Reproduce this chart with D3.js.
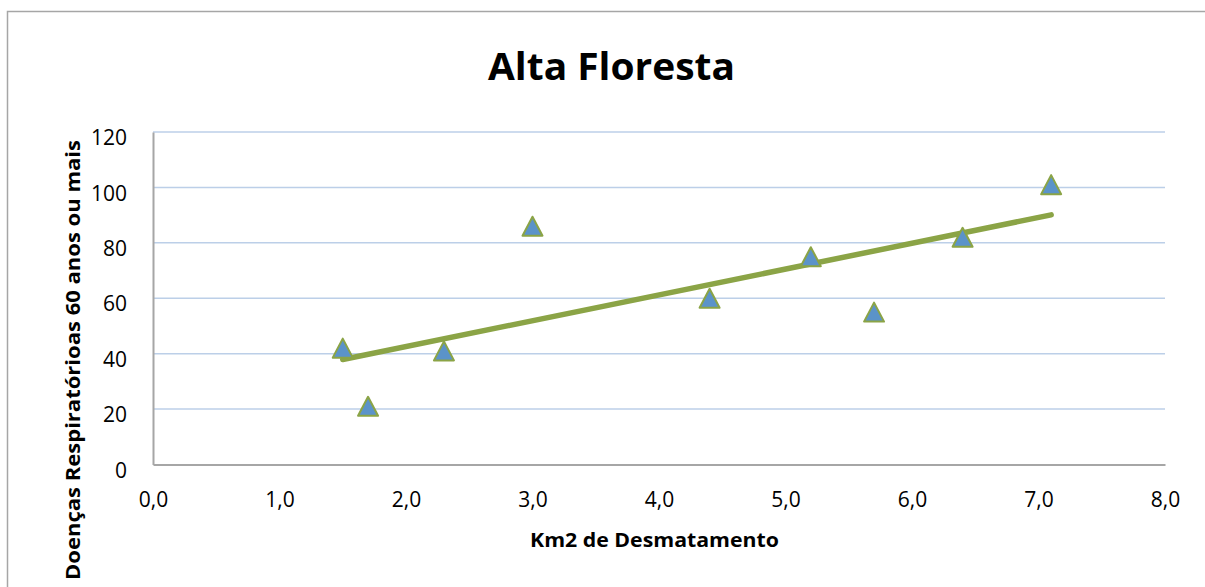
<!DOCTYPE html>
<html>
<head>
<meta charset="utf-8">
<script src="https://cdn.jsdelivr.net/npm/d3@7"></script>
<style>
  html, body { margin: 0; padding: 0; background: #fff; }
  svg { display: block; }
  text { font-family: "Open Sans", "Liberation Sans", sans-serif; fill: #000; }
</style>
</head>
<body>
<svg id="chart" width="1205" height="587"></svg>
<script>
// ---- data ----
const chartTitle = "Alta Floresta";
const xTitle = "Km2 de Desmatamento";
const yTitle = "Doenças Respiratórioas 60 anos ou mais";
const desmatamento = [1.5, 1.7, 2.3, 3.0, 4.4, 5.2, 5.7, 6.4, 7.1];
const doencas = [42, 21, 41, 86, 60, 75, 55, 82, 101];
const xTickValues = [0, 1, 2, 3, 4, 5, 6, 7, 8];
const yTickValues = [0, 20, 40, 60, 80, 100, 120];

// ---- layout ----
const W = 1205, H = 587;
const plot = { left: 153, right: 1165, top: 132, bottom: 464.5 };
const svg = d3.select("#chart");

// outer chart border
svg.append("rect")
  .attr("x", 7.5).attr("y", 11.5)
  .attr("width", W + 20).attr("height", H + 20)
  .attr("fill", "#fff").attr("stroke", "#a6a6a6").attr("stroke-width", 1.5);

const x = d3.scaleLinear().domain([0, 8]).range([plot.left, plot.right]);
const y = d3.scaleLinear().domain([0, 120]).range([plot.bottom, plot.top]);

const ptBR = d3.formatLocale({ decimal: ",", thousands: ".", grouping: [3], currency: ["R$", ""] });
const fmtX = ptBR.format(".1f");

// gridlines
svg.append("g").selectAll("line").data(yTickValues.filter(v => v > 0)).join("line")
  .attr("x1", plot.left).attr("x2", plot.right)
  .attr("y1", d => y(d)).attr("y2", d => y(d))
  .attr("stroke", "#bccfe8").attr("stroke-width", 1.5);

// axes
const yAxis = d3.axisLeft(y).tickValues(yTickValues).tickSize(0).tickPadding(26).tickFormat(d3.format("d"));
const gy = svg.append("g").attr("transform", `translate(${plot.left},0)`).call(yAxis);
gy.select(".domain").attr("stroke", "#a6a6a6").attr("stroke-width", 2);
gy.selectAll("text").attr("font-size", 21).attr("dy", "0.6em").style("font-family", "'Open Sans', sans-serif");

const xAxis = d3.axisBottom(x).tickValues(xTickValues).tickSize(0).tickPadding(28).tickFormat(fmtX);
const gx = svg.append("g").attr("transform", `translate(0,${plot.bottom})`).call(xAxis);
gx.select(".domain").attr("stroke", "#a6a6a6").attr("stroke-width", 2);
gx.selectAll("text").attr("font-size", 21).style("font-family", "'Open Sans', sans-serif");

// linear trendline (least squares)
const n = desmatamento.length;
const mx = d3.mean(desmatamento), my = d3.mean(doencas);
let sxy = 0, sxx = 0;
for (let i = 0; i < n; i++) {
  sxy += (desmatamento[i] - mx) * (doencas[i] - my);
  sxx += (desmatamento[i] - mx) ** 2;
}
const slope = sxy / sxx, intercept = my - slope * mx;
const xmin = d3.min(desmatamento), xmax = d3.max(desmatamento);
const trend = [[xmin, intercept + slope * xmin], [xmax, intercept + slope * xmax]];
svg.append("path")
  .attr("d", d3.line().x(d => x(d[0])).y(d => y(d[1]))(trend))
  .attr("fill", "none").attr("stroke", "#8ba446").attr("stroke-width", 5.5)
  .attr("stroke-linecap", "round");

// markers (triangles)
const tri = "M0,-9.5L10,9.5L-10,9.5Z";
svg.append("g").selectAll("path").data(desmatamento.map((d, i) => [d, doencas[i]])).join("path")
  .attr("transform", d => `translate(${x(d[0])},${y(d[1])})`)
  .attr("d", tri)
  .attr("fill", "#5b93c9").attr("stroke", "#8ba446").attr("stroke-width", 2)
  .attr("stroke-linejoin", "round");

// titles
svg.append("text").text(chartTitle)
  .attr("x", 611.5).attr("y", 79.5).attr("text-anchor", "middle")
  .attr("font-size", 37).attr("font-weight", "bold")
  .attr("textLength", 247).attr("lengthAdjust", "spacingAndGlyphs");

svg.append("text").text(xTitle)
  .attr("x", 654.5).attr("y", 547).attr("text-anchor", "middle")
  .attr("font-size", 20).attr("font-weight", "bold")
  .attr("textLength", 249).attr("lengthAdjust", "spacingAndGlyphs");

svg.append("text").text(yTitle)
  .attr("transform", "translate(80,360) rotate(-90)")
  .attr("text-anchor", "middle")
  .attr("font-size", 20).attr("font-weight", "bold")
  .attr("textLength", 440).attr("lengthAdjust", "spacingAndGlyphs");
</script>
</body>
</html>
